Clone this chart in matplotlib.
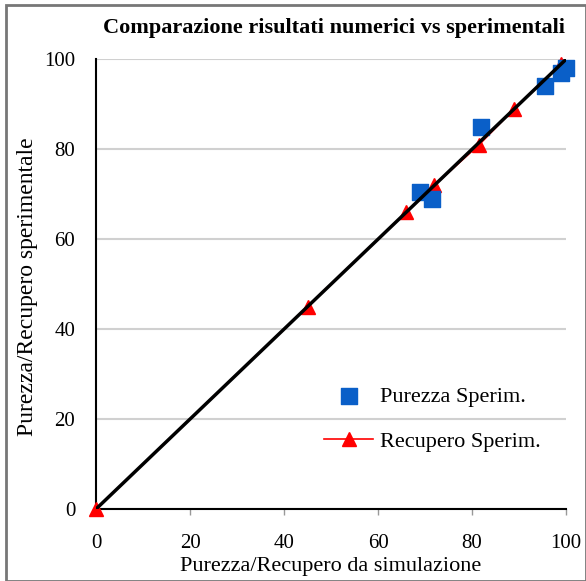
import matplotlib
matplotlib.use("Agg")
import matplotlib.pyplot as plt
from matplotlib.patches import Rectangle

# Data
pur_sim = [69, 71.5, 82, 95.5, 99, 100]
pur_exp = [70.5, 69, 85, 94, 97, 98]
rec_sim = [0, 45, 66, 72, 81.5, 89, 99]
rec_exp = [0, 45, 66, 72, 81, 89, 99]
line_x = [0, 100]
line_y = [0, 100]
ticks = [0, 20, 40, 60, 80, 100]

plt.rcParams['font.family'] = ['Liberation Serif', 'DejaVu Serif']

fig = plt.figure(figsize=(5.86, 5.81), dpi=100)
ax = fig.add_axes([0.164, 0.124, 0.802, 0.774])

ax.set_xlim(0, 100)
ax.set_ylim(0, 100)
ax.set_xticks(ticks)
ax.set_yticks(ticks)
ax.grid(axis='y', color='#d0d0d0', linewidth=1.5)
ax.set_axisbelow(True)

ax.plot(rec_sim, rec_exp, color='red', marker='^', markersize=10, linewidth=1.2,
        label='Recupero Sperim.', zorder=3, clip_on=False)
ax.scatter(pur_sim, pur_exp, marker='s', s=120, color='#0a5fc8',
           label='Purezza Sperim.', zorder=4, clip_on=False)
ax.plot(line_x, line_y, color='black', linewidth=2.5, zorder=5)

for s in ['top', 'right']:
    ax.spines[s].set_visible(False)
for s in ['left', 'bottom']:
    ax.spines[s].set_color('black')
    ax.spines[s].set_linewidth(1.5)

ax.tick_params(axis='both', labelsize=15, colors='#999999', length=4, width=1,
               labelcolor='black')
ax.tick_params(axis='y', length=0, pad=15)
ax.tick_params(axis='x', pad=14)

ax.set_xlabel('Purezza/Recupero da simulazione', fontsize=16, va='center')
ax.xaxis.set_label_coords(0.5, -0.129)
ax.set_ylabel('Purezza/Recupero sperimentale', fontsize=17, va='center')
ax.yaxis.set_label_coords(-0.145, 0.494)
fig.text(0.57, 0.951, 'Comparazione risultati numerici vs sperimentali',
         ha='center', va='center', fontsize=16, fontweight='bold')

handles, labels = ax.get_legend_handles_labels()
leg = ax.legend([handles[1], handles[0]], [labels[1], labels[0]],
                loc='center left', bbox_to_anchor=(0.443, 0.2), frameon=False,
                fontsize=16, labelspacing=1.1, handlelength=2.2, handletextpad=0.3)

fig.patches.append(Rectangle((0.011, 0.0), 0.989, 0.991, transform=fig.transFigure,
                             fill=False, edgecolor='#777777', linewidth=2))

fig.savefig('out.png', dpi=100)
